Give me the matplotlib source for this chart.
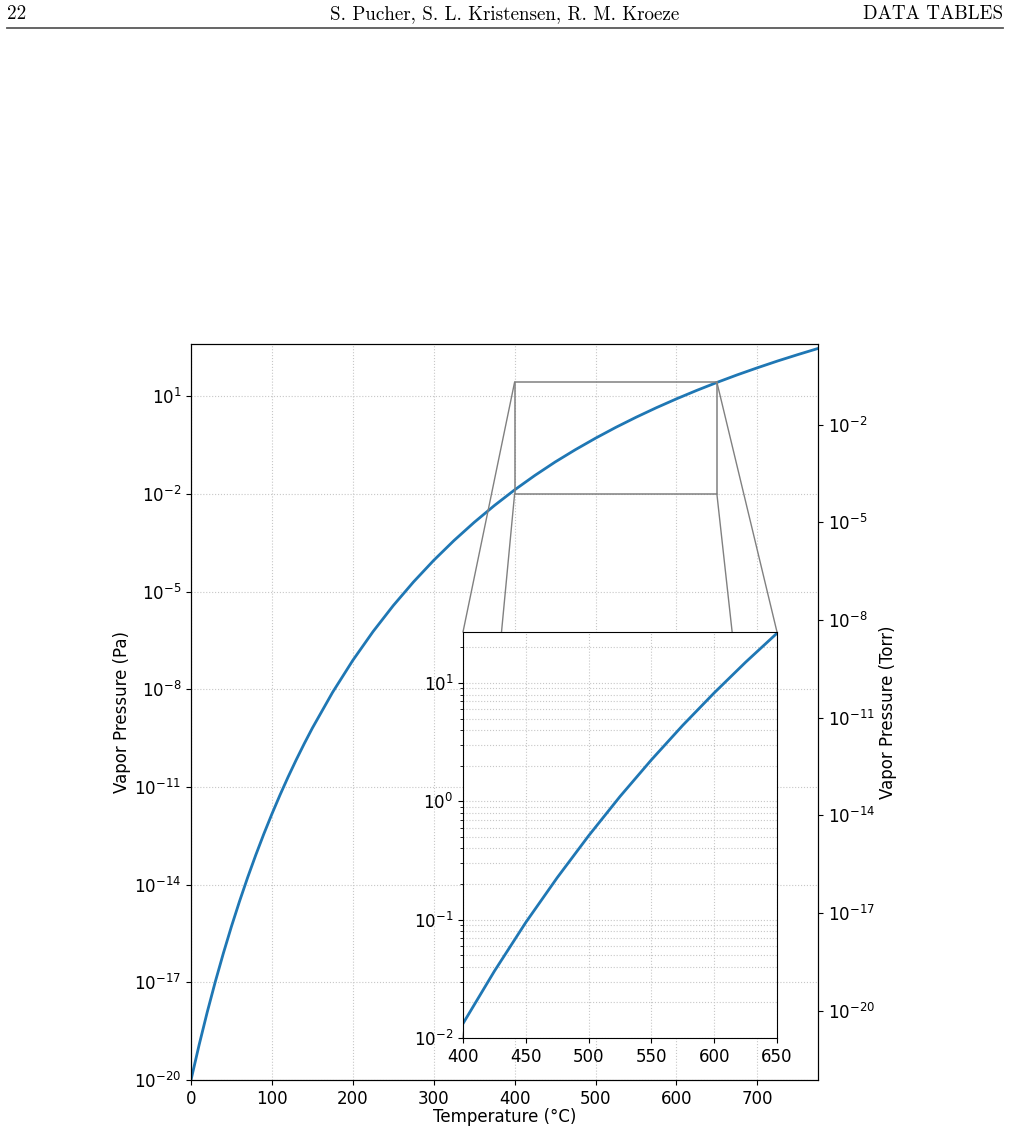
import matplotlib
matplotlib.use('Agg')
import matplotlib.pyplot as plt
import numpy as np
from matplotlib.patches import Rectangle, ConnectionPatch
from matplotlib.lines import Line2D
from matplotlib.ticker import FixedLocator, NullLocator, LogFormatterSciNotation

# data (temperature in degC, log10 of vapour pressure in Pa)
temp_c = [0, 10, 20, 30, 40, 50, 60, 70, 80, 90, 100, 110, 120, 130, 140, 150,
          175, 200, 225, 250, 275, 300, 325, 350, 375, 400, 425, 450, 475, 500,
          525, 550, 575, 600, 625, 650, 675, 700, 725, 750, 775]
log_p_pa = [-20.000, -18.926, -17.922, -16.985, -16.108, -15.284, -14.511, -13.782,
            -13.095, -12.445, -11.831, -11.248, -10.695, -10.170, -9.670, -9.193,
            -8.095, -7.113, -6.230, -5.431, -4.705, -4.042, -3.435, -2.876, -2.358,
            -1.878, -1.435, -1.023, -0.645, -0.291, 0.041, 0.351, 0.643, 0.917,
            1.176, 1.421, 1.653, 1.871, 2.080, 2.276, 2.465]
pa_per_torr = 133.322

main_xticks = [0, 100, 200, 300, 400, 500, 600, 700]
main_yticks_exp = [-20, -17, -14, -11, -8, -5, -2, 1]
torr_yticks_exp = [-20, -17, -14, -11, -8, -5, -2]
zoom_x = (400, 650)
zoom_y = (1e-2, 27)
zoom_xticks = [400, 450, 500, 550, 600, 650]

T = np.array(temp_c)
P = 10 ** np.array(log_p_pa)

fig = plt.figure(figsize=(10.1, 11.32), dpi=100)

# page header
hdr_y = 1 - 14 / 1132
fig.text(7 / 1010, hdr_y, '22', family='cmr10', fontsize=13.7, va='center', ha='left')
fig.text(505 / 1010, hdr_y, 'S. Pucher, S. L. Kristensen, R. M. Kroeze', family='cmr10',
         fontsize=13.7, va='center', ha='center')
fig.text(1003 / 1010, hdr_y, 'DATA TABLES', family='cmr10', fontsize=13.7, va='center', ha='right')
fig.add_artist(Line2D([7 / 1010, 1003 / 1010], [1 - 28 / 1132] * 2,
                      transform=fig.transFigure, color='0.35', lw=1.3))

# main plot
ax = fig.add_axes([191 / 1010, 52 / 1132, 627 / 1010, 736 / 1132])
ax.plot(T, P, color='#1f77b4', lw=2)
ax.set_yscale('log')
ax.set_xlim(0, 775)
ax.set_ylim(1e-20, 4e2)
ax.set_xticks(main_xticks)
ax.yaxis.set_major_locator(FixedLocator([10.0 ** e for e in main_yticks_exp]))
ax.yaxis.set_minor_locator(NullLocator())
ax.tick_params(labelsize=12)
ax.set_xlabel('Temperature (°C)', fontsize=12)
ax.xaxis.set_label_coords(0.5, -(1108 - 1080) / 736)
ax.set_ylabel('Vapor Pressure (Pa)', fontsize=12, labelpad=2)
ax.grid(True, ls=':', lw=0.8, color='0.78')

# right axis in Torr
ax2 = ax.twinx()
ax2.set_yscale('log')
ax2.set_ylim(1e-20 / pa_per_torr, 4e2 / pa_per_torr)
ax2.yaxis.set_major_locator(FixedLocator([10.0 ** e for e in torr_yticks_exp]))
ax2.yaxis.set_minor_locator(NullLocator())
ax2.yaxis.set_major_formatter(LogFormatterSciNotation())
ax2.tick_params(labelsize=12)
ax2.set_ylabel('Vapor Pressure (Torr)', fontsize=12, labelpad=3)

# zoomed inset
axins = ax.inset_axes([(463 - 191) / 627, (1080 - 1038) / 736, 314 / 627, 406 / 736])
axins.plot(T, P, color='#1f77b4', lw=2)
axins.set_yscale('log')
axins.set_xlim(*zoom_x)
axins.set_ylim(*zoom_y)
axins.set_xticks(zoom_xticks)
axins.tick_params(labelsize=12)
axins.grid(True, which='both', ls=':', lw=0.8, color='0.78')

ax.add_patch(Rectangle((zoom_x[0], zoom_y[0]), zoom_x[1] - zoom_x[0], zoom_y[1] - zoom_y[0],
                       fill=False, ec='0.5', lw=1.1, zorder=3))
for cx, fx in [(0, 0), (1, 1)]:
    for cy, fy in [(0, 0), (1, 1)]:
        con = ConnectionPatch(xyA=(zoom_x[cx], zoom_y[cy]), coordsA=ax.transData,
                              xyB=(fx, fy), coordsB=axins.transAxes,
                              color='0.5', lw=1.0, zorder=3)
        ax.add_artist(con)

fig.savefig('out.png', dpi=100)
